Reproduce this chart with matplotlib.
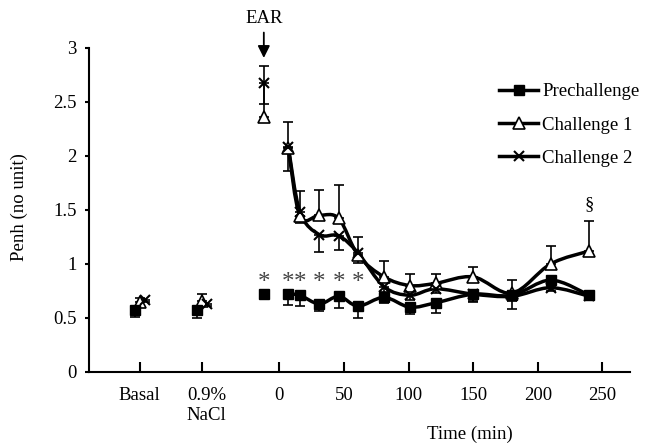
import numpy as np
import matplotlib
matplotlib.use('Agg')
import matplotlib.pyplot as plt
from matplotlib.path import Path
from matplotlib.patches import PathPatch
from matplotlib.lines import Line2D

plt.rcParams['font.family'] = ['Liberation Serif', 'DejaVu Serif']

# ---- data ----
base_labels = ['Basal', '0.9%\nNaCl']
base_pos = [-108, -60]

pre_base = [0.57, 0.57]
pre_base_err = [0.06, 0.07]
c1_base = [0.65, 0.66]
c1_base_err = [0.03, 0.06]
c2_base = [0.67, 0.63]
c2_base_err = [0.02, 0.02]

time = [-12, 7, 16, 31, 46, 61, 81, 101, 121, 150, 180, 210, 240]
pre = [0.72, 0.72, 0.71, 0.63, 0.70, 0.61, 0.69, 0.60, 0.64, 0.72, 0.71, 0.85, 0.71]
pre_err = [0.0, 0.10, 0.10, 0.07, 0.11, 0.11, 0.05, 0.06, 0.09, 0.07, 0.05, 0.05, 0.03]
c1 = [2.36, 2.07, 1.44, 1.45, 1.42, 1.08, 0.88, 0.80, 0.82, 0.88, 0.73, 1.00, 1.12]
c1_err = [0.47, 0.24, 0.23, 0.23, 0.31, 0.17, 0.15, 0.11, 0.09, 0.09, 0.12, 0.17, 0.28]
c2 = [2.67, 2.08, 1.48, 1.27, 1.26, 1.10, 0.79, 0.71, 0.77, 0.72, 0.70, 0.78, 0.70]
c2_err = [0.19, 0.22, 0.10, 0.16, 0.13, 0.09, 0.05, 0.04, 0.04, 0.06, 0.12, 0.03, 0.03]

star_times = [-12, 7, 16, 31, 46, 61]
star_level = 0.82

xticks = [-108, -60, 0, 50, 100, 150, 200, 250]
xticklabels = ['Basal', '0.9%\nNaCl', '0', '50', '100', '150', '200', '250']
yticks = [0, 0.5, 1, 1.5, 2, 2.5, 3]
yticklabels = ['0', '0.5', '1', '1.5', '2', '2.5', '3']

FS = 13.5
W, H = 646, 445

fig = plt.figure(figsize=(W / 100, H / 100), dpi=100)
ax = fig.add_axes([89 / W, 1 - 372 / H, (630 - 89) / W, (372 - 47.7) / H])
ax.set_xlim(-147.3, 271.4)
ax.set_ylim(0, 3)


def smooth_path(x, y):
    pts = np.column_stack([x, y]).astype(float)
    n = len(pts)
    verts = [pts[0]]
    codes = [Path.MOVETO]
    for i in range(n - 1):
        p0 = pts[i - 1] if i > 0 else pts[i]
        p1 = pts[i]
        p2 = pts[i + 1]
        p3 = pts[i + 2] if i + 2 < n else pts[i + 1]
        verts += [p1 + (p2 - p0) / 6, p2 - (p3 - p1) / 6, p2]
        codes += [Path.CURVE4] * 3
    return Path(verts, codes)


ebkw = dict(fmt='none', ecolor='black', elinewidth=1.2, capsize=3.6, capthick=1.2, zorder=2)
shift = 4
z = np.zeros(2)
ax.errorbar(np.array(base_pos) - shift, pre_base, yerr=[pre_base_err, z], **ebkw)
ax.errorbar(np.array(base_pos), c1_base, yerr=[z, c1_base_err], **ebkw)
ax.errorbar(np.array(base_pos) + shift, c2_base, yerr=[c2_base_err, z], **ebkw)
zt = np.zeros(len(time))
ax.errorbar(time, pre, yerr=[pre_err, zt], **ebkw)
ax.errorbar(time, c1, yerr=[zt, c1_err], **ebkw)
ax.errorbar(time, c2, yerr=[c2_err, zt], **ebkw)

for series in (c1, c2, pre):
    p = smooth_path(time[1:], series[1:])
    ax.add_patch(PathPatch(p, fill=False, lw=2.5, edgecolor='black',
                           transform=ax.transData, zorder=3, capstyle='round', joinstyle='round'))

mk_pre = dict(marker='s', ms=6.5, mfc='black', mec='black', ls='none', zorder=5)
mk_c1 = dict(marker='^', ms=8.5, mfc='white', mec='black', mew=1.2, ls='none', zorder=4)
mk_c2 = dict(marker='x', ms=7, mec='black', mew=1.5, ls='none', zorder=5)

ax.plot(np.array(base_pos) - shift, pre_base, **mk_pre)
ax.plot(np.array(base_pos), c1_base, **mk_c1)
ax.plot(np.array(base_pos) + shift, c2_base, **mk_c2)
ax.plot(time, pre, **mk_pre)
ax.plot(time, c1, **mk_c1)
ax.plot(time, c2, **mk_c2)

for t in star_times:
    ax.text(t, star_level, '*', ha='center', va='center', fontsize=18, color='#444444')

ax.text(240, 1.55, '§', ha='center', va='center', fontsize=FS)

ax.annotate('EAR', xy=(-12, 2.905), xytext=(-12, 3.27), ha='center', va='center',
            fontsize=FS, annotation_clip=False,
            arrowprops=dict(arrowstyle='-|>', color='black', lw=1.3, mutation_scale=18,
                            shrinkA=2, shrinkB=0))

for s in ('top', 'right'):
    ax.spines[s].set_visible(False)
for s in ('left', 'bottom'):
    ax.spines[s].set_linewidth(1.5)
ax.set_xticks(xticks)
ax.set_xticklabels(xticklabels, fontsize=FS)
ax.set_yticks(yticks)
ax.set_yticklabels(yticklabels, fontsize=FS)
ax.tick_params(axis='x', direction='in', length=7, width=1.5, pad=11)
ax.tick_params(axis='y', direction='out', length=3, width=1.5, pad=6)
# the two-line baseline label sits slightly right of its tick in the reference
for lbl in ax.get_xticklabels():
    if 'NaCl' in lbl.get_text():
        lbl.set_x(lbl.get_position()[0])
        lbl.set_transform(lbl.get_transform() + matplotlib.transforms.ScaledTranslation(5 / 100, 0, fig.dpi_scale_trans))

fig.text(19 / W, 1 - 207 / H, 'Penh (no unit)', rotation=90, ha='center', va='center', fontsize=FS)
fig.text(470 / W, 1 - 434 / H, 'Time (min)', ha='center', va='center', fontsize=FS)

handles = [
    Line2D([], [], color='black', lw=2.5, marker='s', ms=6.5, mfc='black', mec='black'),
    Line2D([], [], color='black', lw=2.5, marker='^', ms=8.5, mfc='white', mec='black', mew=1.2),
    Line2D([], [], color='black', lw=2.5, marker='x', ms=7, mec='black', mew=1.5),
]
fig.legend(handles, ['Prechallenge', 'Challenge 1', 'Challenge 2'], loc='center left',
           bbox_to_anchor=(499 / W, 1 - 125 / H), frameon=False, fontsize=FS,
           handlelength=2.1, handletextpad=0.2, labelspacing=0.85,
           borderpad=0, borderaxespad=0)

fig.savefig('out.png', dpi=100)
